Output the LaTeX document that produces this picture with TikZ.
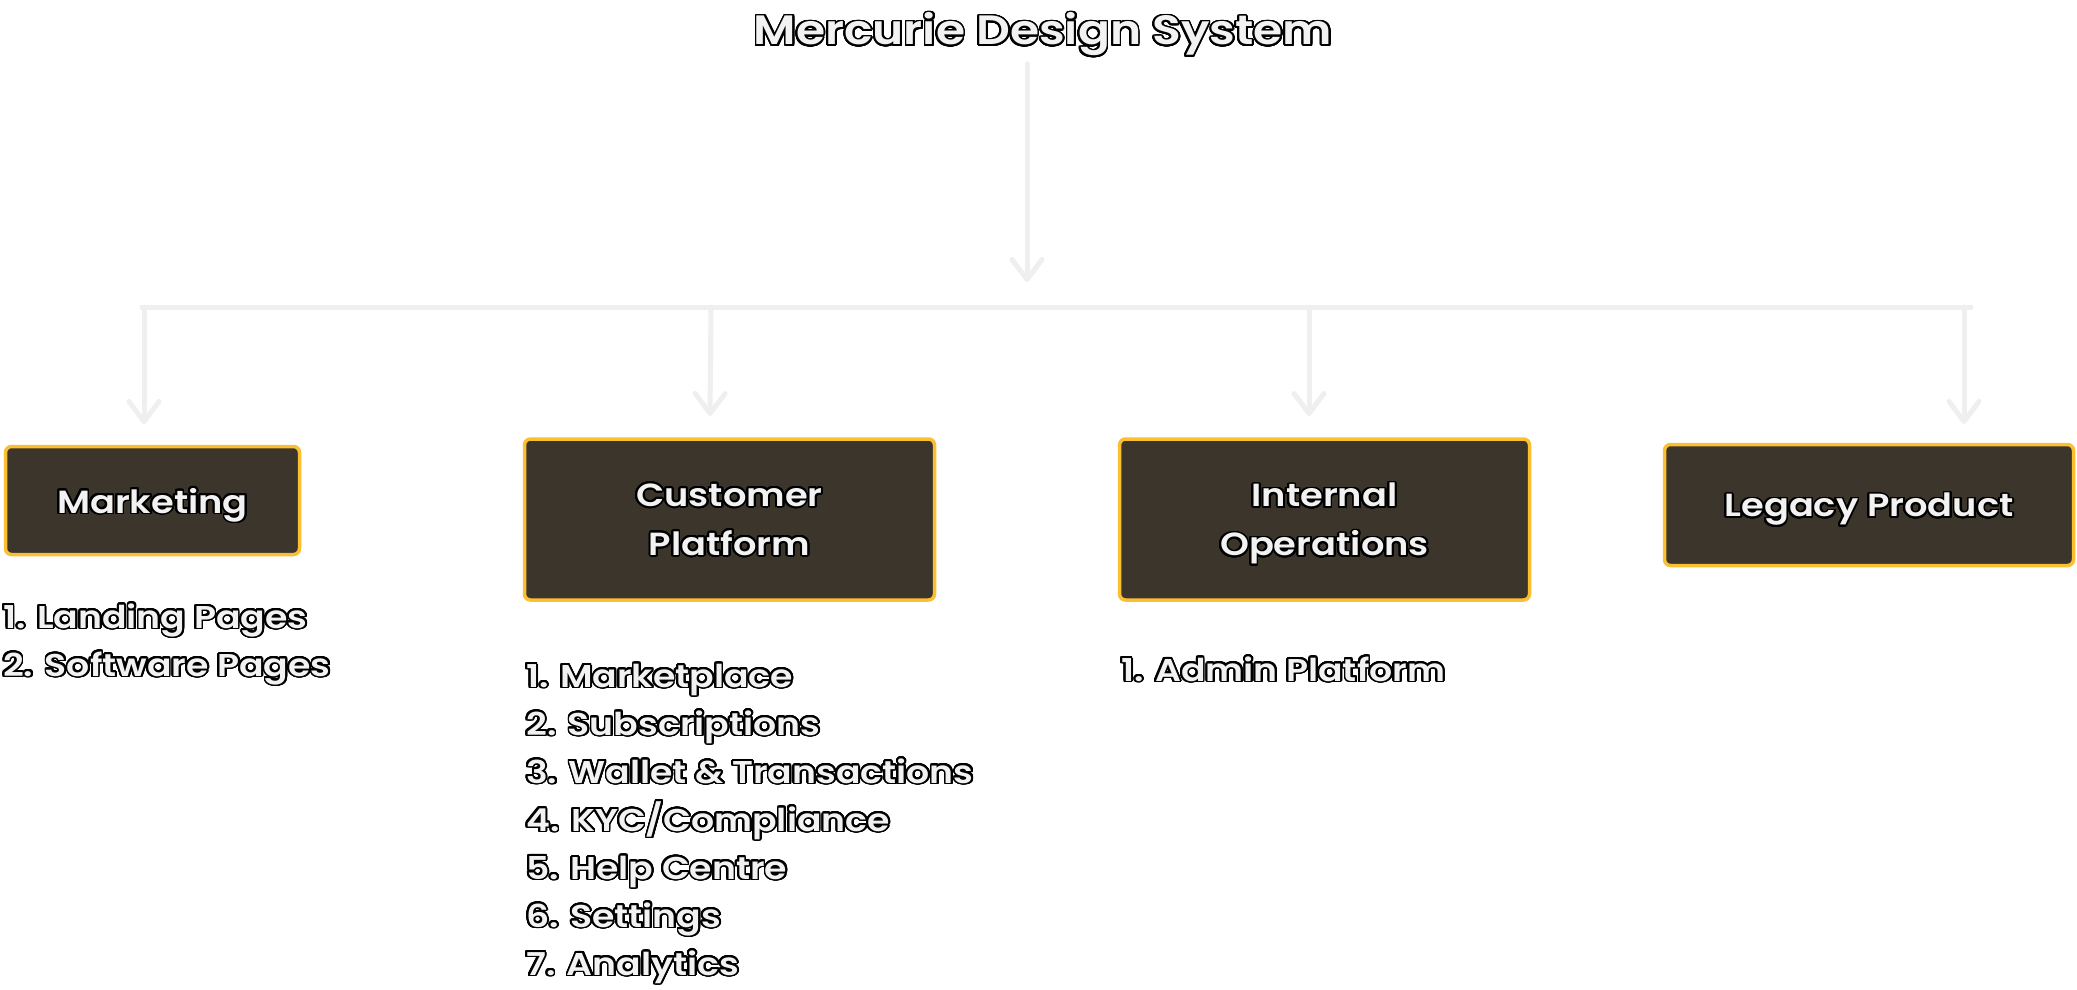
\documentclass[tikz,border=0pt]{standalone}
\usepackage{fontspec}
\setmainfont{Poppins}[FakeStretch=1.15, BoldFont={Poppins SemiBold}]
\usepackage{contour}
\contourlength{1.8pt}
\contournumber{32}
\usetikzlibrary{arrows.meta}
\definecolor{txt}{HTML}{F2F2F2}
\definecolor{conn}{HTML}{EFEFEF}
\definecolor{boxfill}{HTML}{3C352B}
\definecolor{boxline}{HTML}{FBBF32}
\newcommand{\ot}[1]{\contour{black}{#1}}
\tikzset{
  catbox/.style={draw=boxline, fill=boxfill, line width=3.5pt, rounded corners=6pt,
    text=txt, align=center, inner sep=0pt, text depth=0pt, font=\fontsize{32}{49}\selectfont\bfseries},
  listtext/.style={text=txt, align=left, inner sep=0pt, anchor=base west,
    font=\fontsize{31.5}{48}\selectfont\bfseries},
  titletext/.style={text=txt, inner sep=0pt, font=\fontsize{41}{48}\selectfont\bfseries},
  conline/.style={draw=conn, line width=5pt, line cap=round, line join=round},
  conarrow/.style={conline, -{Straight Barb[length=20pt,width=30pt,line cap=round,line join=round]}}
}
\begin{document}
\begin{tikzpicture}[x=1pt,y=-1pt]
\fill[white] (0,0) rectangle (2077,990);
\useasboundingbox (0,0) rectangle (2077,990);

\node[titletext, anchor=base] (title) at (1043,45) {\ot{Mercurie Design System}};

\node[catbox, minimum width=294pt, minimum height=108pt] (mkt) at (152.5,500.5) {\ot{Marketing}};
\node[catbox, minimum width=410pt, minimum height=161pt] (cust) at (729.5,519.5) {\ot{Customer}\\\ot{Platform}};
\node[catbox, minimum width=410pt, minimum height=161pt] (intl) at (1324.5,519.5) {\ot{Internal}\\\ot{Operations}};
\node[catbox, minimum width=409pt, minimum height=121pt] (leg) at (1869,505) {\ot{Legacy Product}};

\coordinate (t0) at (1027,64);
\coordinate (t1) at (1027,282);
\coordinate (hl) at (142,307);
\coordinate (hr) at (1971,307);
\coordinate (m0) at (144,307);
\coordinate (m1) at (144,424);
\coordinate (c0) at (711,307);
\coordinate (c1) at (710,416);
\coordinate (i0) at (1309,307);
\coordinate (i1) at (1309,416);
\coordinate (l0) at (1964,307);
\coordinate (l1) at (1964,424);

\draw[conarrow] (t0) -- (t1);
\draw[conline] (hl) -- (hr);
\draw[conarrow] (m0) -- (m1);
\draw[conarrow] (c0) -- (c1);
\draw[conarrow] (i0) -- (i1);
\draw[conarrow] (l0) -- (l1);

\node[listtext] (mlist) at (3,676) {\ot{1. Landing Pages}\\\ot{2. Software Pages}};
\node[listtext] (clist) at (526,975) {\ot{1. Marketplace}\\\ot{2. Subscriptions}\\\ot{3. Wallet \& Transactions}\\\ot{4. KYC/Compliance}\\\ot{5. Help Centre}\\\ot{6. Settings}\\\ot{7. Analytics}};
\node[listtext] (ilist) at (1121,681) {\ot{1. Admin Platform}};
\end{tikzpicture}
\end{document}
